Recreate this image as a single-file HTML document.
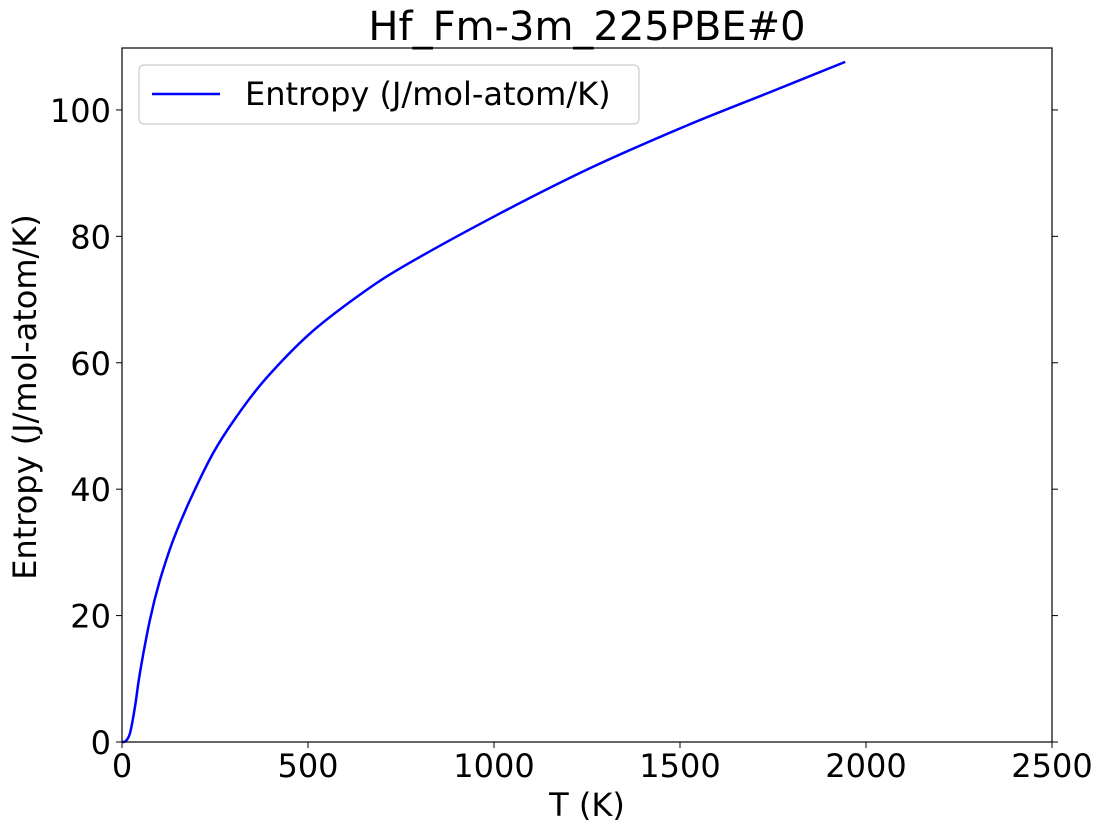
<!DOCTYPE html>
<html><head><meta charset="utf-8"><style>
body{margin:0;background:#fff;}
svg text{font-family:"DejaVu Sans","Liberation Sans",sans-serif;fill:#000;}
</style></head><body>
<svg id="chart" width="1104" height="833" xmlns="http://www.w3.org/2000/svg">
<text x="587" y="40" font-size="40" text-anchor="middle">Hf_Fm-3m_225PBE#0</text>
<g id="ticks"></g>
<path id="line" fill="none" stroke="#0000ff" stroke-width="2.5"/>
<rect x="122" y="48" width="930" height="694" fill="none" stroke="#000" stroke-width="1.2"/>
<g>
<rect x="139" y="65" width="500" height="59" rx="5" fill="#fff" stroke="#ccc" stroke-width="1.2"/>
<line x1="152" y1="94" x2="220" y2="94" stroke="#0000ff" stroke-width="2.5"/>
<text x="245" y="105" font-size="32">Entropy (J/mol-atom/K)</text>
</g>
<text x="587" y="816" font-size="32" text-anchor="middle">T (K)</text>
<text transform="translate(36,397) rotate(-90)" font-size="32" text-anchor="middle">Entropy (J/mol-atom/K)</text>
</svg>
<script>
const temps=[0,10,21.5,35,48,75,102,138,183,245,308,384,503,631,758,1012,1266,1521,1750,1944];
const entropy=[0,0.15,1.4,5.6,10.9,19.3,25.6,32,38.3,45.7,51.5,57.3,64.5,70.4,75.3,83.5,91,97.6,103,107.6];
const xTicks=[0,500,1000,1500,2000,2500];
const yTicks=[0,20,40,60,80,100];
const X0=122,X1=1052,Y0=742,Y1=48,xMax=2500,yMax=109.8;
function sx(v){return X0+v/xMax*(X1-X0);}
function sy(v){return Y0-v/yMax*(Y0-Y1);}
const ns="http://www.w3.org/2000/svg",g=document.getElementById('ticks');
function mk(t,a){const e=document.createElementNS(ns,t);for(const k in a)e.setAttribute(k,a[k]);g.appendChild(e);return e;}
xTicks.forEach(v=>{
 const l=mk('line',{x1:sx(v),x2:sx(v),y1:Y0,y2:Y0+6,stroke:'#000'});
 
 
 const t=mk('text',{x:sx(v),y:777,'font-size':32,'text-anchor':'middle'});t.textContent=v;
 
 
});
yTicks.forEach(v=>{
 const l=mk('line',{x1:X0-6,x2:X0,y1:sy(v),y2:sy(v),stroke:'#000'});
 
 
 const r=mk('line',{x1:X1,x2:X1+6,y1:sy(v),y2:sy(v),stroke:'#000'});
 
 
 const t=mk('text',{x:X0-11,y:sy(v)+12,'font-size':32,'text-anchor':'end'});t.textContent=v;
 
 
});
const P=temps.map((t,i)=>[sx(t),sy(entropy[i])]);
let d='M'+P[0][0].toFixed(1)+','+P[0][1].toFixed(1);
for(let i=0;i<P.length-1;i++){
 const p0=P[Math.max(i-1,0)],p1=P[i],p2=P[i+1],p3=P[Math.min(i+2,P.length-1)];
 const c1=[p1[0]+(p2[0]-p0[0])/6,p1[1]+(p2[1]-p0[1])/6];
 const c2=[p2[0]-(p3[0]-p1[0])/6,p2[1]-(p3[1]-p1[1])/6];
 d+='C'+c1.map(v=>v.toFixed(1)).join(',')+' '+c2.map(v=>v.toFixed(1)).join(',')+' '+p2.map(v=>v.toFixed(1)).join(',');
}
document.getElementById('line').setAttribute('d',d);
</script>
</body></html>
